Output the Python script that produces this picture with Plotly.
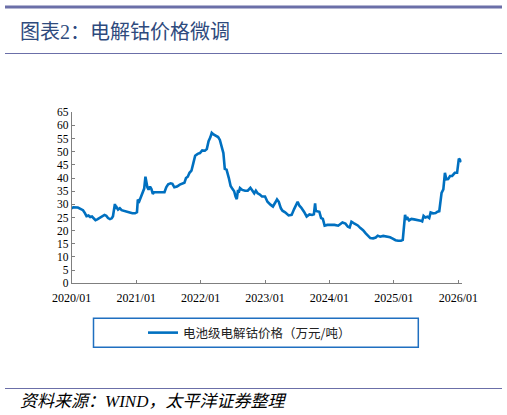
import plotly.graph_objects as go

# 电池级电解钴价格（万元/吨）
dates = [
    '2020-01-01', '2020-01-10', '2020-02-05', '2020-02-20', '2020-03-05', '2020-03-15', '2020-03-25',
    '2020-04-05', '2020-04-15', '2020-04-25', '2020-05-05', '2020-05-15', '2020-05-25', '2020-06-10',
    '2020-06-25', '2020-07-05', '2020-07-15', '2020-07-25', '2020-08-05', '2020-08-15', '2020-08-22',
    '2020-08-28', '2020-09-02', '2020-09-06', '2020-09-12', '2020-09-20', '2020-09-30', '2020-10-10',
    '2020-10-25', '2020-11-10', '2020-11-25', '2020-12-10', '2020-12-25', '2021-01-05', '2021-01-10',
    '2021-01-18', '2021-01-25', '2021-02-05', '2021-02-15', '2021-02-22', '2021-02-26', '2021-03-05',
    '2021-03-12', '2021-03-20', '2021-03-28', '2021-04-05', '2021-04-12', '2021-05-01', '2021-05-20',
    '2021-06-10', '2021-06-20', '2021-07-01', '2021-07-15', '2021-07-25', '2021-08-05', '2021-08-20',
    '2021-09-05', '2021-09-20', '2021-10-01', '2021-10-10', '2021-10-20', '2021-10-30', '2021-11-10',
    '2021-11-20', '2021-12-01', '2021-12-15', '2021-12-28', '2022-01-10', '2022-01-25', '2022-02-05',
    '2022-02-15', '2022-02-25', '2022-03-05', '2022-03-15', '2022-03-25', '2022-04-10', '2022-04-20',
    '2022-04-28', '2022-05-10', '2022-05-18', '2022-05-28', '2022-06-10', '2022-06-20', '2022-07-01',
    '2022-07-10', '2022-07-18', '2022-07-25', '2022-08-01', '2022-08-05', '2022-08-12', '2022-08-25',
    '2022-09-10', '2022-09-25', '2022-10-10', '2022-10-20', '2022-11-01', '2022-11-10', '2022-11-20',
    '2022-12-01', '2022-12-15', '2023-01-01', '2023-01-15', '2023-02-01', '2023-02-15', '2023-03-01',
    '2023-03-10', '2023-03-20', '2023-04-01', '2023-04-10', '2023-04-25', '2023-05-15', '2023-06-01',
    '2023-06-15', '2023-07-05', '2023-07-15', '2023-07-25', '2023-08-10', '2023-08-25', '2023-09-10',
    '2023-09-25', '2023-10-05', '2023-10-12', '2023-10-16', '2023-10-25', '2023-11-05', '2023-11-15',
    '2023-11-25', '2023-12-05', '2023-12-20', '2024-01-10', '2024-01-30', '2024-02-20', '2024-03-05',
    '2024-03-15', '2024-04-01', '2024-04-15', '2024-04-25', '2024-05-05', '2024-05-20', '2024-06-10',
    '2024-06-25', '2024-07-10', '2024-07-25', '2024-08-10', '2024-08-20', '2024-09-05', '2024-09-20',
    '2024-10-01', '2024-10-15', '2024-11-01', '2024-11-20', '2024-12-10', '2024-12-25', '2025-01-10',
    '2025-01-25', '2025-02-10', '2025-02-20', '2025-02-26', '2025-03-05', '2025-03-12', '2025-03-20',
    '2025-03-28', '2025-04-10', '2025-04-25', '2025-05-15', '2025-06-01', '2025-06-10', '2025-06-18',
    '2025-06-28', '2025-07-10', '2025-07-20', '2025-07-28', '2025-08-10', '2025-08-25', '2025-09-05',
    '2025-09-15', '2025-09-28', '2025-10-08', '2025-10-17', '2025-10-25', '2025-11-04', '2025-11-15',
    '2025-11-27', '2025-12-12', '2025-12-25', '2026-01-04', '2026-01-10', '2026-01-19',
]
cobalt_price = [
    28.5, 28.9, 28.8, 28.4, 27.8, 26.8, 25.5,
    25.8, 25.2, 25.4, 24.5, 24.0, 24.3, 25.0,
    25.9, 26.0, 25.7, 24.8, 24.4, 24.7, 25.5,
    27.5, 30.2, 28.4, 28.9, 28.0, 28.5, 27.8,
    27.6, 27.2, 26.9, 26.6, 26.6, 27.0, 31.8,
    31.2, 32.5, 34.0, 36.0, 40.5, 39.0, 36.5,
    35.6, 36.8, 35.8, 34.0, 34.6, 34.6, 34.6,
    34.6, 36.5, 37.6, 38.0, 37.8, 36.5, 36.8,
    37.5, 38.0, 38.2, 40.0, 40.5, 42.0, 42.8,
    45.5, 48.5, 49.2, 49.5, 50.5, 50.4, 51.0,
    54.0, 55.5, 57.2, 56.6, 56.2, 55.6, 54.5,
    52.0, 49.5, 43.5, 43.2, 40.0, 37.0, 35.8,
    35.0, 33.0, 32.0, 35.5, 34.5, 36.2, 35.5,
    35.2, 35.2, 36.3, 35.3, 34.2, 35.2, 34.2,
    33.8, 33.0, 33.0, 31.0, 29.9, 29.2, 30.8,
    31.9, 31.0, 28.5, 27.6, 27.0, 25.8, 26.0,
    28.2, 31.0, 29.5, 28.8, 27.2, 25.4, 26.2,
    26.0, 26.2, 30.4, 27.5, 27.4, 27.2, 24.8,
    24.5, 21.9, 22.2, 22.2, 22.2, 21.9, 22.5,
    23.1, 22.7, 21.5, 21.2, 23.4, 22.8, 22.0,
    21.0, 20.2, 19.0, 18.0, 17.2, 17.1, 17.4,
    18.1, 17.7, 18.0, 17.8, 17.5, 17.0, 16.4,
    16.2, 16.2, 16.5, 21.5, 26.0, 24.2, 24.8,
    23.9, 24.5, 24.3, 24.1, 23.8, 23.5, 25.6,
    25.0, 25.3, 24.8, 26.9, 26.6, 26.7, 27.2,
    27.4, 34.4, 35.7, 42.0, 39.5, 39.6, 40.8,
    40.8, 42.0, 42.0, 47.4, 47.0, 46.1,
]
year_ticks = ['2020-01-01', '2021-01-01', '2022-01-01', '2023-01-01',
              '2024-01-01', '2025-01-01', '2026-01-01']
year_labels = ['2020/01', '2021/01', '2022/01', '2023/01', '2024/01', '2025/01', '2026/01']

W, H = 507, 415
deco = '#6B6FA8'
serif = 'Liberation Serif, Times New Roman, serif'
mixed = 'Liberation Serif, Noto Sans CJK SC'   # 西文用衬线体，中文回落到思源黑体
cjk = 'Noto Sans CJK SC'


def px(x):
    return x / W


def py(y):
    return 1 - y / H


fig = go.Figure()
fig.add_trace(go.Scatter(
    x=dates, y=cobalt_price, mode='lines',
    name='电池级电解钴价格（万元/吨）',
    line=dict(color='#0070C0', width=2.6),
))

fig.update_layout(
    width=W, height=H,
    margin=dict(l=0, r=0, t=0, b=0, autoexpand=False),
    paper_bgcolor='white', plot_bgcolor='white',
    showlegend=True,
    legend=dict(
        x=px(183 - 40), y=py(333), xanchor='left', yanchor='middle',
        orientation='h', bgcolor='rgba(0,0,0,0)',
        font=dict(family=cjk, size=12.5, color='#222'),
        itemwidth=30,
    ),
    xaxis=dict(
        type='date', domain=[px(71.7), px(461.5)], automargin=False,
        range=['2020-01-01', '2026-01-19'],
        tickvals=year_ticks, ticktext=year_labels,
        ticks='inside', ticklen=3, tickcolor='#7f7f7f',
        showline=True, linecolor='#7f7f7f', linewidth=1,
        showgrid=False, zeroline=False, ticklabelstandoff=3,
        tickfont=dict(family=serif, size=12, color='black'),
    ),
    yaxis=dict(
        domain=[py(283.3), py(112.3)], automargin=False,
        range=[0, 65], dtick=5,
        ticks='inside', ticklen=3, tickcolor='#7f7f7f',
        showline=True, linecolor='#7f7f7f', linewidth=1,
        showgrid=False, zeroline=False,
        tickfont=dict(family=serif, size=11.5, color='black'),
    ),
)

# 顶部装饰线、标题下分隔线、底部来源线
fig.add_shape(type='line', xref='paper', yref='paper',
              x0=px(5), x1=px(502), y0=py(7), y1=py(7),
              line=dict(color=deco, width=3))
fig.add_shape(type='line', xref='paper', yref='paper',
              x0=px(5), x1=px(502), y0=py(53.5), y1=py(53.5),
              line=dict(color=deco, width=1))
fig.add_shape(type='line', xref='paper', yref='paper',
              x0=px(5), x1=px(502), y0=py(388.5), y1=py(388.5),
              line=dict(color=deco, width=1))
# 图例外框
fig.add_shape(type='rect', xref='paper', yref='paper',
              x0=px(93.5), x1=px(418.3), y0=py(347.3), y1=py(318.3),
              line=dict(color='#1F6FC0', width=1.5), fillcolor='rgba(0,0,0,0)')

fig.add_annotation(text='图表2：电解钴价格微调', xref='paper', yref='paper',
                   x=px(18), y=py(32), xanchor='left', yanchor='middle',
                   showarrow=False,
                   font=dict(family=mixed, size=20, color='#2E4A7D'))
fig.add_annotation(text='<i>资料来源：WIND，太平洋证券整理</i>', xref='paper', yref='paper',
                   x=px(18), y=py(401), xanchor='left', yanchor='middle',
                   showarrow=False,
                   font=dict(family=mixed, size=17, color='black'))

# 去掉页面默认的 body 边距，让图正好铺满窗口
fig.write_html("out.html", config={'displayModeBar': False},
               post_script="document.body.style.margin = '0';")
